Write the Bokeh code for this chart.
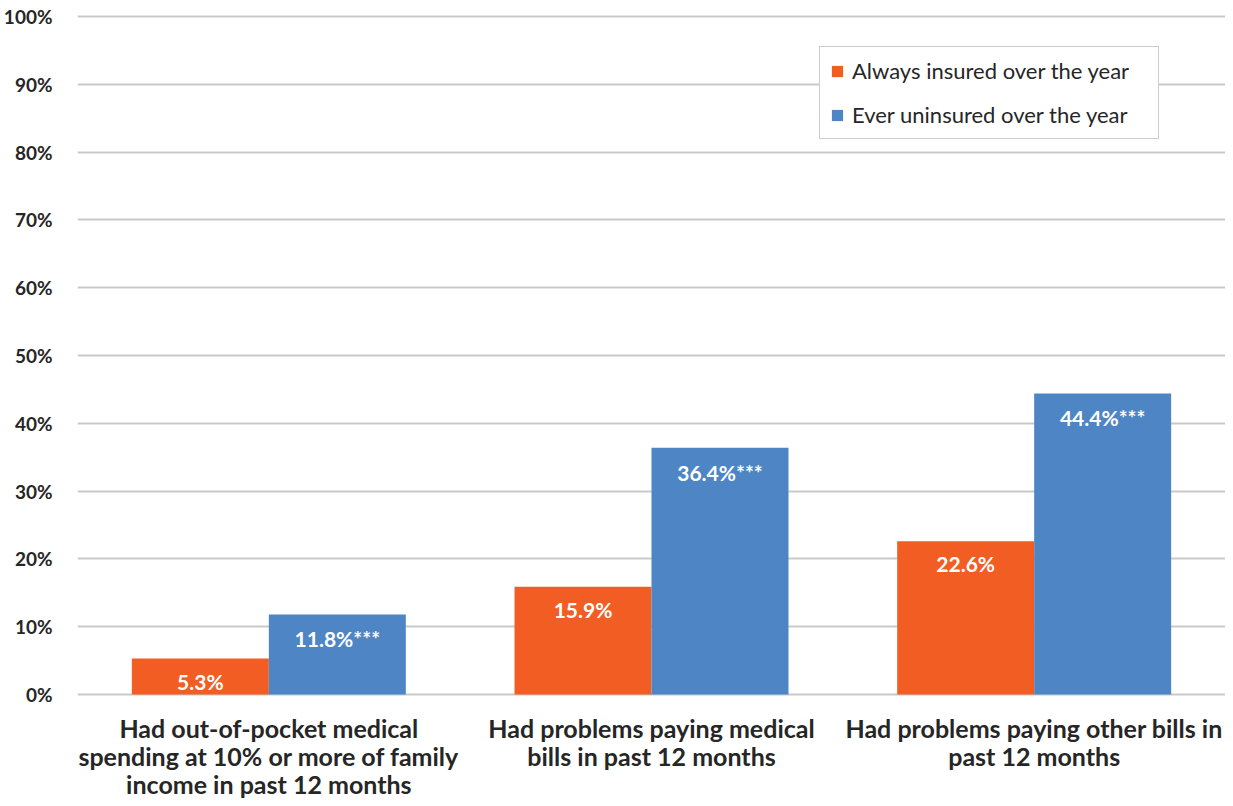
from bokeh.plotting import figure
from bokeh.models import ColumnDataSource, FactorRange, Range1d, PrintfTickFormatter, Legend, LegendItem, FixedTicker
from bokeh.transform import dodge
from bokeh.core.properties import value
from bokeh.embed import file_html
from bokeh.resources import INLINE

categories = [
    "Had out-of-pocket medical\nspending at 10% or more of family\nincome in past 12 months",
    "Had problems paying medical\nbills in past 12 months",
    "Had problems paying other bills in\npast 12 months",
]
series_names = ["Always insured over the year", "Ever uninsured over the year"]
always = [5.3, 15.9, 22.6]
ever = [11.8, 36.4, 44.4]
always_labels = ["5.3%", "15.9%", "22.6%"]
ever_labels = ["11.8%***", "36.4%***", "44.4%***"]
y_ticks = [0, 10, 20, 30, 40, 50, 60, 70, 80, 90, 100]

ORANGE = "#F15D22"
BLUE = "#4E85C5"
FONT = "Lato"
TXT = "#262626"

# layout (pixels)
W, H = 1225, 798
BL, BT = 70, 14
PLOT_PX = 678          # pixels from 0% to 100%
TOP_PAD = 2
BOT_PAD = H - BT - TOP_PAD - PLOT_PX
px = 100.0 / PLOT_PX   # data units per pixel
frame_h = PLOT_PX + TOP_PAD + BOT_PAD

src = ColumnDataSource(dict(cat=categories, a=always, e=ever, al=always_labels, el=ever_labels))

p = figure(x_range=FactorRange(*categories),
           y_range=Range1d(-BOT_PAD * px, 100 + TOP_PAD * px),
           width=W, height=H, output_backend="svg", toolbar_location=None,
           min_border_left=BL, min_border_right=0, min_border_top=BT, min_border_bottom=0)
p.outline_line_color = None
p.background_fill_color = "white"

bw = 0.358
r1 = p.vbar(x=dodge("cat", -bw / 2, range=p.x_range), top="a", width=bw, source=src,
            fill_color=ORANGE, line_color=None)
r2 = p.vbar(x=dodge("cat", bw / 2, range=p.x_range), top="e", width=bw, source=src,
            fill_color=BLUE, line_color=None)

common = dict(text_align="center", text_baseline="top", text_color="white",
              text_font=value(FONT), text_font_style="bold", text_font_size="21px", source=src)
p.text(x=dodge("cat", -bw / 2, range=p.x_range), y="a", text="al", y_offset=10, **common)
p.text(x=dodge("cat", bw / 2, range=p.x_range), y="e", text="el", y_offset=12, **common)

# y axis
p.yaxis.ticker = FixedTicker(ticks=y_ticks)
p.yaxis.formatter = PrintfTickFormatter(format="%d%%")
p.yaxis.axis_line_color = None
p.yaxis.major_tick_line_color = None
p.yaxis.minor_tick_line_color = None
p.yaxis.major_label_text_font = FONT
p.yaxis.major_label_text_font_style = "bold"
p.yaxis.major_label_text_font_size = "19px"
p.yaxis.major_label_text_color = TXT
p.yaxis.major_label_standoff = 19

p.xaxis.visible = False
p.xgrid.grid_line_color = None
p.ygrid.grid_line_color = "#C9C9C9"
p.ygrid.grid_line_width = 2

# category labels, one text line each, below the 0% line
line_px = [33, 61, 89]
lx, ly, lt = [], [], []
for cat in categories:
    for i, line in enumerate(cat.split("\n")):
        lx.append(cat)
        ly.append(-line_px[i] * px)
        lt.append(line)
p.text(x=lx, y=ly, text=lt, text_align="center", text_baseline="middle",
       text_font=value(FONT), text_font_style="bold", text_font_size="25px", text_color=TXT)

legend = Legend(items=[LegendItem(label=series_names[0], renderers=[r1]),
                       LegendItem(label=series_names[1], renderers=[r2])],
                location=(742, frame_h - 31 - 94))
legend.label_text_font = FONT
legend.label_text_font_size = "22px"
legend.label_text_color = TXT
legend.glyph_width = 14
legend.glyph_height = 14
legend.label_height = 22
legend.label_width = 296
legend.label_standoff = 8
legend.spacing = 17
legend.padding = 10
legend.margin = 0
legend.border_line_color = "#9A9A9A"
legend.border_line_width = 1.5
legend.background_fill_color = "white"
legend.background_fill_alpha = 1
p.add_layout(legend)

open("out.html", "w").write(file_html(p, INLINE))
